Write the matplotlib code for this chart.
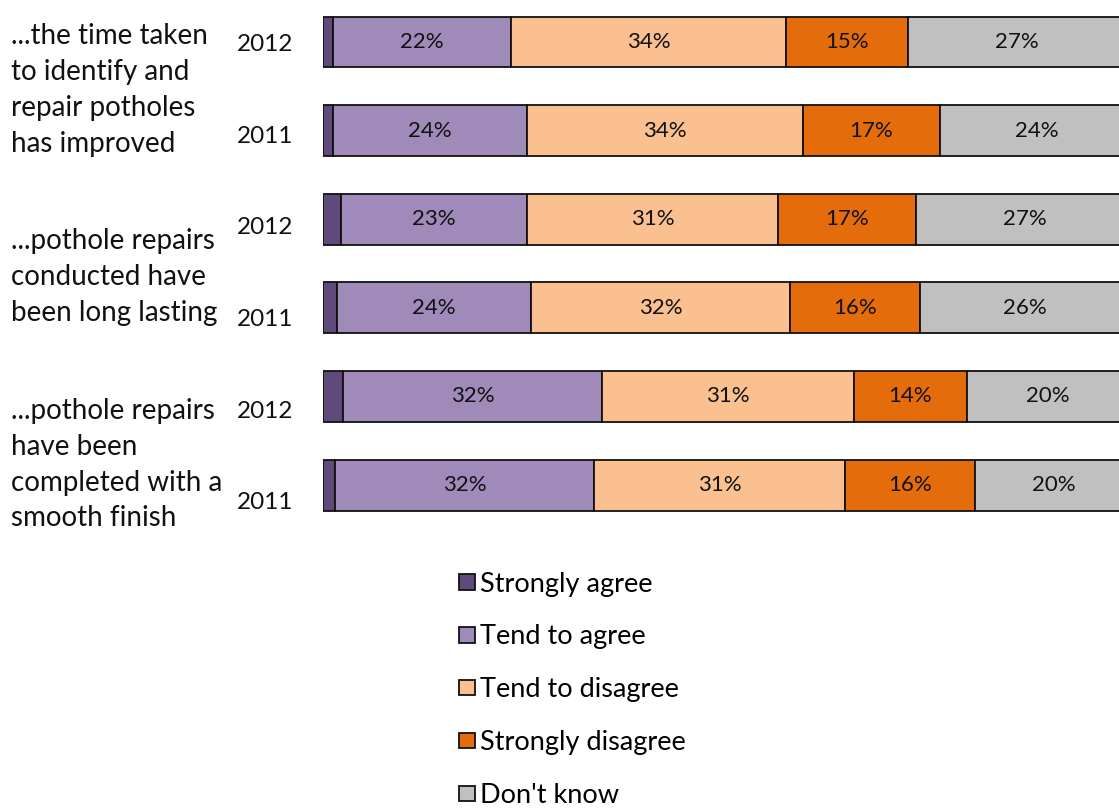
import matplotlib.pyplot as plt
import numpy as np

plt.rcParams['font.family'] = ['Lato', 'DejaVu Sans']

# survey statements, two waves each (top to bottom)
groups = ['...the time taken\nto identify and\nrepair potholes\nhas improved',
          '...pothole repairs\nconducted have\nbeen long lasting',
          '...pothole repairs\nhave been\ncompleted with a\nsmooth finish']
years = ['2012', '2011', '2012', '2011', '2012', '2011']

categories = ['Strongly agree', 'Tend to agree', 'Tend to disagree',
              'Strongly disagree', "Don't know"]
colors = ['#604a7b', '#a08ab9', '#fac090', '#e46c0a', '#c0c0c0']

strongly_agree = [1.2, 1.2, 2.2, 1.7, 2.5, 1.5]
tend_agree = [22, 24, 23, 24, 32, 32]
tend_disagree = [34, 34, 31, 32, 31, 31]
strongly_disagree = [15, 17, 17, 16, 14, 16]
dont_know = [27, 24, 27, 26, 20, 20]

series = [strongly_agree, tend_agree, tend_disagree, strongly_disagree, dont_know]
show_label = [False, True, True, True, True]

fig = plt.figure(figsize=(11.19, 8.08), dpi=100)
ax = fig.add_axes([323 / 1119, 1 - 540 / 808, 810 / 1119, 540 / 808])

y = np.arange(len(years))
left = np.zeros(len(years))
for vals, name, col, lab in zip(series, categories, colors, show_label):
    vals = np.array(vals, dtype=float)
    bars = ax.barh(y, vals, left=left, height=0.575, color=col,
                   edgecolor='#111111', linewidth=1.3, label=name)
    if lab:
        ax.bar_label(bars, labels=[f'{v:g}%' for v in vals],
                     label_type='center', fontsize=16, color='#111111')
    left += vals

ax.set_xlim(0, 100)
ax.set_ylim(5.62, -0.474)
ax.axis('off')

# wave labels next to the bars
for i, yr in enumerate(years):
    ax.text(-3.7, i * 1.034 + 0.03, yr, ha='right', va='center',
            fontsize=17.5, color='#111111')

# statement labels on the far left
for g, txt in enumerate(groups):
    ax.text(-38.5, g * 2.115 + 0.54, txt, ha='left', va='center',
            fontsize=20, color='#111111', linespacing=1.47)

handles, labels = ax.get_legend_handles_labels()
fig.legend(handles, labels, loc='upper left', bbox_to_anchor=(445 / 1119, 1 - 558 / 808),
           frameon=False, fontsize=19.5, handlelength=0.6, handleheight=0.5,
           handletextpad=0.2, labelspacing=1.03, borderpad=0)

fig.savefig('out.png', dpi=100)
